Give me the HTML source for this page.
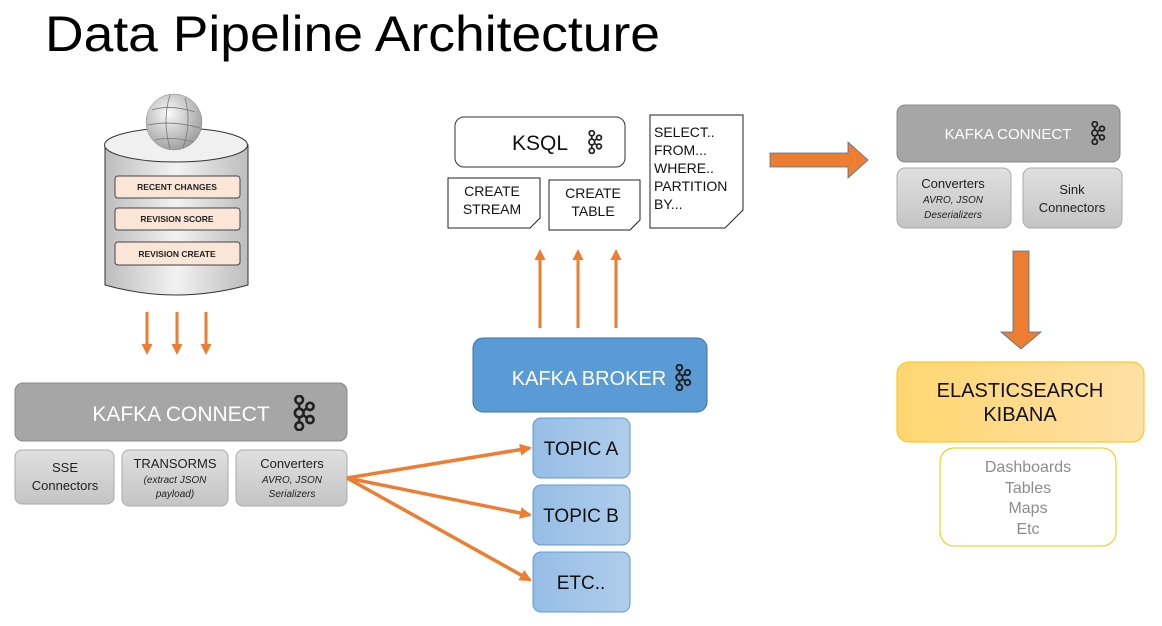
<!DOCTYPE html>
<html><head><meta charset="utf-8"><style>
html,body{margin:0;padding:0;background:#fff;}
svg{display:block;font-family:"Liberation Sans",sans-serif;}
</style></head><body>
<svg width="1162" height="626" viewBox="0 0 1162 626" xmlns="http://www.w3.org/2000/svg">
<defs>
<symbol id="k" viewBox="0 0 20 30">
<g fill="none" stroke="#222" stroke-width="2.2">
<circle cx="6" cy="4" r="3.2"/><circle cx="6" cy="15" r="3.6"/><circle cx="6" cy="26" r="3.2"/>
<circle cx="15" cy="9.5" r="3"/><circle cx="15" cy="20.5" r="3"/>
<line x1="6" y1="7" x2="6" y2="11.5"/><line x1="6" y1="18.5" x2="6" y2="23"/>
<line x1="9" y1="13.5" x2="12.5" y2="11"/><line x1="9" y1="16.5" x2="12.5" y2="19"/>
</g></symbol>
<linearGradient id="cyl" x1="0" x2="1"><stop offset="0" stop-color="#bdbdbd"/><stop offset=".5" stop-color="#f2f2f2"/><stop offset="1" stop-color="#bdbdbd"/></linearGradient>
<linearGradient id="gsub" x1="0" y1="0" x2="0" y2="1"><stop offset="0" stop-color="#e0e0e0"/><stop offset="1" stop-color="#c4c4c4"/></linearGradient>
<linearGradient id="tp" x1="0" x2="1"><stop offset="0" stop-color="#96bde6"/><stop offset="1" stop-color="#b0cdeb"/></linearGradient>
<linearGradient id="ye" x1="0" x2="1"><stop offset="0" stop-color="#ffd670"/><stop offset="1" stop-color="#ffe0a6"/></linearGradient>
<radialGradient id="gl" cx=".4" cy=".35" r=".7"><stop offset="0" stop-color="#fafafa"/><stop offset="1" stop-color="#9a9a9a"/></radialGradient>
<marker id="ah" markerWidth="12" markerHeight="12" refX="8" refY="6" orient="auto" markerUnits="userSpaceOnUse"><path d="M0,0.5 L11,6 L0,11.5 Z" fill="#ed7d31"/></marker>
<marker id="ah2" markerWidth="12" markerHeight="12" refX="10" refY="6" orient="auto" markerUnits="userSpaceOnUse"><path d="M0,0 L12,6 L0,12 Z" fill="#ed7d31"/></marker>
</defs>

<text x="45" y="51" font-size="50" fill="#000" textLength="615" lengthAdjust="spacingAndGlyphs">Data Pipeline  Architecture</text>

<!-- cylinder -->
<path d="M105,145 L105,285 Q176,305 248,285 L248,145 Z" fill="url(#cyl)" stroke="#333" stroke-width="1"/>
<ellipse cx="176" cy="145" rx="71.5" ry="17" fill="#f0f0f0" stroke="#333" stroke-width="1"/>
<circle cx="174" cy="122" r="28" fill="url(#gl)" stroke="#888" stroke-width="0.5"/>
<g fill="none" stroke="#777" stroke-width="0.8"><path d="M152,110 Q170,104 195,112"/><path d="M148,125 Q172,120 200,128"/><path d="M155,140 Q172,136 193,142"/><path d="M170,95 Q162,120 170,149"/><path d="M185,98 Q192,122 183,148"/></g>
<g font-size="8.5" font-weight="bold" text-anchor="middle" fill="#222">
<rect x="115" y="176" width="125" height="22" rx="3" fill="#fbe5d6" stroke="#444"/><text x="177" y="190">RECENT CHANGES</text>
<rect x="115" y="208" width="125" height="22" rx="3" fill="#fbe5d6" stroke="#444"/><text x="177" y="222">REVISION SCORE</text>
<rect x="115" y="242" width="125" height="23" rx="3" fill="#fbe5d6" stroke="#444"/><text x="177" y="257">REVISION CREATE</text>
</g>
<g stroke="#ed7d31" stroke-width="3">
<line x1="147" y1="312" x2="147" y2="352" marker-end="url(#ah)"/>
<line x1="177" y1="312" x2="177" y2="352" marker-end="url(#ah)"/>
<line x1="206" y1="312" x2="206" y2="352" marker-end="url(#ah)"/>
</g>

<!-- left kafka connect -->
<rect x="15" y="383" width="332" height="58" rx="8" fill="#a6a6a6" stroke="#888"/>
<text x="181" y="421" font-size="21" fill="#fff" text-anchor="middle">KAFKA CONNECT</text>
<use href="#k" x="292" y="395" width="24" height="36"/>
<rect x="15" y="450" width="99" height="54" rx="7" fill="url(#gsub)" stroke="#aaa"/>
<rect x="122" y="450" width="106" height="56" rx="7" fill="url(#gsub)" stroke="#aaa"/>
<rect x="236" y="450" width="111" height="56" rx="7" fill="url(#gsub)" stroke="#aaa"/>
<g text-anchor="middle" fill="#222">
<text x="65" y="472" font-size="13">SSE</text><text x="65" y="490" font-size="13">Connectors</text>
<text x="175" y="468" font-size="13">TRANSORMS</text>
<text x="175" y="483" font-size="10" font-style="italic">(extract JSON</text><text x="175" y="497" font-size="10" font-style="italic">payload)</text>
<text x="292" y="468" font-size="13">Converters</text>
<text x="292" y="483" font-size="10" font-style="italic">AVRO, JSON</text><text x="292" y="497" font-size="10" font-style="italic">Serializers</text>
</g>
<g stroke="#ed7d31" stroke-width="3.5" fill="none">
<line x1="347" y1="478" x2="530" y2="448" marker-end="url(#ah2)"/>
<line x1="347" y1="478" x2="530" y2="515" marker-end="url(#ah2)"/>
<line x1="347" y1="478" x2="530" y2="580" marker-end="url(#ah2)"/>
</g>

<!-- broker & topics -->
<rect x="473" y="338" width="234" height="74" rx="10" fill="#5b9bd5" stroke="#41719c"/>
<text x="589" y="385" font-size="20" fill="#fff" text-anchor="middle">KAFKA BROKER</text>
<use href="#k" x="674" y="364" width="18" height="27"/>
<g font-size="19" text-anchor="middle" fill="#111">
<rect x="533" y="418" width="97" height="60" rx="8" fill="url(#tp)" stroke="#5b9bd5"/><text x="581" y="455">TOPIC A</text>
<rect x="533" y="485" width="97" height="60" rx="8" fill="url(#tp)" stroke="#5b9bd5"/><text x="581" y="522">TOPIC B</text>
<rect x="533" y="552" width="97" height="60" rx="8" fill="url(#tp)" stroke="#5b9bd5"/><text x="581" y="589">ETC..</text>
</g>
<g stroke="#ed7d31" stroke-width="3">
<line x1="540" y1="328" x2="540" y2="252" marker-end="url(#ah)"/>
<line x1="578" y1="328" x2="578" y2="252" marker-end="url(#ah)"/>
<line x1="616" y1="328" x2="616" y2="252" marker-end="url(#ah)"/>
</g>

<!-- KSQL -->
<rect x="455" y="117" width="170" height="50" rx="9" fill="#fff" stroke="#333"/>
<text x="540" y="150" font-size="21" text-anchor="middle" fill="#111">KSQL</text>
<use href="#k" x="587" y="130" width="16" height="24"/>
<path d="M448,178 H540 V218 L530,228 H448 Z" fill="#fff" stroke="#222"/>
<path d="M549,180 H640 V220 L630,230 H549 Z" fill="#fff" stroke="#222"/>
<path d="M650,115 H743 V210 L725,228 H650 Z" fill="#fff" stroke="#222"/>
<g font-size="14" fill="#111">
<text x="492" y="196" text-anchor="middle">CREATE</text><text x="492" y="214" text-anchor="middle">STREAM</text>
<text x="593" y="198" text-anchor="middle">CREATE</text><text x="593" y="216" text-anchor="middle">TABLE</text>
<text x="654" y="137">SELECT..</text><text x="654" y="155">FROM...</text><text x="654" y="173">WHERE..</text><text x="654" y="191">PARTITION</text><text x="654" y="209">BY...</text>
</g>
<path d="M770,153 H848 V142 L868,160 L848,178 V167 H770 Z" fill="#ed7d31" stroke="#41719c" stroke-width="0.8"/>

<!-- right kafka connect -->
<rect x="897" y="105" width="223" height="57" rx="8" fill="#a6a6a6" stroke="#888"/>
<text x="1008" y="139" font-size="15" fill="#fff" text-anchor="middle">KAFKA CONNECT</text>
<use href="#k" x="1090" y="121" width="16" height="24"/>
<rect x="897" y="168" width="114" height="60" rx="8" fill="url(#gsub)" stroke="#aaa"/>
<rect x="1023" y="168" width="99" height="60" rx="8" fill="url(#gsub)" stroke="#aaa"/>
<g text-anchor="middle" fill="#222">
<text x="953" y="188" font-size="13">Converters</text>
<text x="953" y="203" font-size="10" font-style="italic">AVRO, JSON</text><text x="953" y="218" font-size="10" font-style="italic">Deserializers</text>
<text x="1072" y="194" font-size="13">Sink</text><text x="1072" y="212" font-size="13">Connectors</text>
</g>
<path d="M1013,251 H1029 V332 L1041,332 L1021,349 L1001,332 L1013,332 Z" fill="#ed7d31" stroke="#41719c" stroke-width="0.8"/>

<rect x="897" y="362" width="247" height="80" rx="12" fill="url(#ye)" stroke="#ffc000"/>
<g font-size="20" text-anchor="middle" fill="#111"><text x="1020" y="397">ELASTICSEARCH</text><text x="1020" y="421">KIBANA</text></g>
<rect x="940" y="448" width="176" height="98" rx="14" fill="#fff" stroke="#ffc000"/>
<g font-size="16" text-anchor="middle" fill="#8c8c8c">
<text x="1028" y="472">Dashboards</text><text x="1028" y="493">Tables</text><text x="1028" y="513">Maps</text><text x="1028" y="534">Etc</text>
</g>
</svg>
</body></html>
